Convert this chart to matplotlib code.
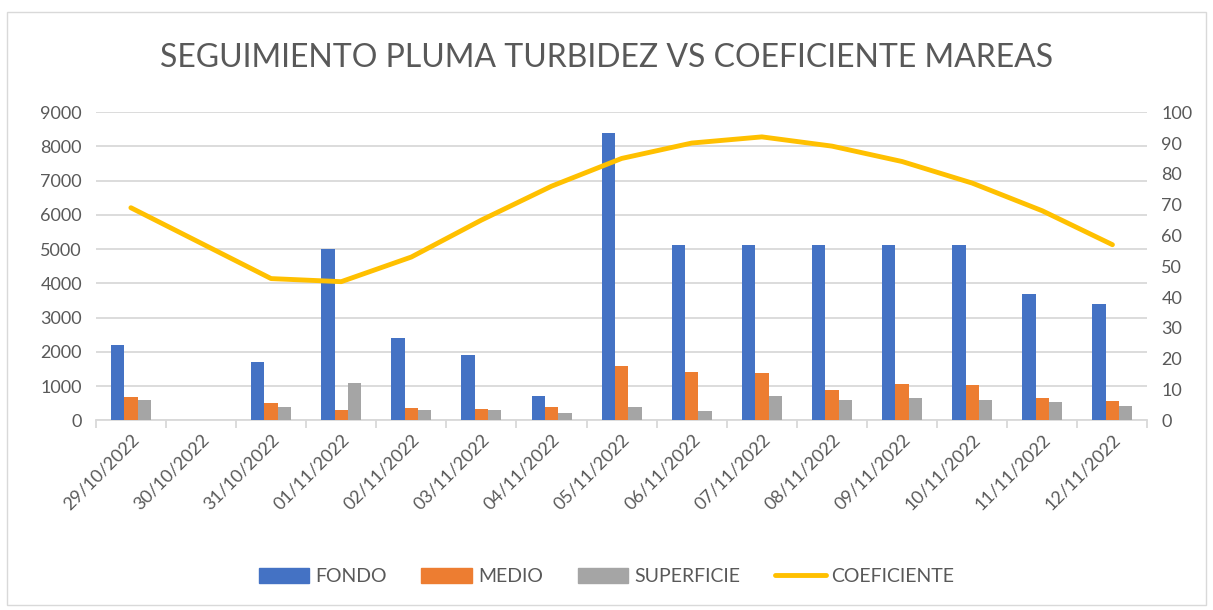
import matplotlib.pyplot as plt
import numpy as np
from matplotlib.patches import Patch
from matplotlib.lines import Line2D

plt.rcParams['font.family'] = ['Lato', 'DejaVu Sans']

fechas = ['29/10/2022', '30/10/2022', '31/10/2022', '01/11/2022', '02/11/2022',
          '03/11/2022', '04/11/2022', '05/11/2022', '06/11/2022', '07/11/2022',
          '08/11/2022', '09/11/2022', '10/11/2022', '11/11/2022', '12/11/2022']
fondo = [2200, np.nan, 1700, 5000, 2400, 1900, 700, 8400, 5120, 5120, 5120, 5120, 5120, 3700, 3400]
medio = [680, np.nan, 500, 300, 350, 320, 400, 1600, 1400, 1380, 880, 1060, 1040, 650, 560]
superficie = [600, np.nan, 400, 1100, 300, 300, 200, 400, 280, 720, 600, 660, 600, 530, 430]
coeficiente = [69, 57.5, 46, 45, 53, 65, 76, 85, 90, 92, 89, 84, 77, 68, 57]

c_fondo = '#4472C4'
c_medio = '#ED7D31'
c_sup = '#A5A5A5'
c_coef = '#FFC000'
gris = '#595959'

fig = plt.figure(figsize=(12.13, 6.1), dpi=100)
fig.patches.append(plt.Rectangle((0.006, 0.008), 0.988, 0.972, transform=fig.transFigure,
                                 fill=False, edgecolor='#d9d9d9', linewidth=1))
ax = fig.add_axes([0.079, 0.311, 0.867, 0.505])

x = np.arange(len(fechas))
w = 0.19
ax.bar(x - w, fondo, w, color=c_fondo, zorder=3)
ax.bar(x, medio, w, color=c_medio, zorder=3)
ax.bar(x + w, superficie, w, color=c_sup, zorder=3)

ax.set_xlim(-0.5, len(fechas) - 0.5)
ax.set_ylim(0, 9000)
ax.set_yticks(range(0, 9001, 1000))
ax.grid(axis='y', color='#d9d9d9', linewidth=1.3, zorder=0)
ax.set_axisbelow(True)
for s in ['top', 'right', 'left']:
    ax.spines[s].set_visible(False)
ax.spines['bottom'].set_color('#d9d9d9')
ax.spines['bottom'].set_linewidth(1.3)

ax.set_xticks(x)
ax.set_xticklabels(fechas, rotation=45, ha='right', rotation_mode='anchor')
ax.set_xticks(np.arange(-0.5, len(fechas), 1), minor=True)
ax.tick_params(axis='x', which='major', length=0, labelsize=13, labelcolor=gris, pad=8)
ax.tick_params(axis='x', which='minor', length=6, color='#d9d9d9', width=1.3)
ax.tick_params(axis='y', length=0, labelsize=13, labelcolor=gris, pad=10)

ax2 = ax.twinx()
ax2.plot(x, coeficiente, color=c_coef, linewidth=3.5, solid_capstyle='round', zorder=4)
ax2.set_ylim(0, 100)
ax2.set_yticks(range(0, 101, 10))
ax2.tick_params(axis='y', length=0, labelsize=13, labelcolor=gris, pad=10)
for s in ax2.spines.values():
    s.set_visible(False)

fig.text(0.5, 0.905, 'SEGUIMIENTO PLUMA TURBIDEZ VS COEFICIENTE MAREAS',
         ha='center', va='center', fontsize=23, color=gris)

handles = [Patch(color=c_fondo), Patch(color=c_medio), Patch(color=c_sup),
           Line2D([0], [0], color=c_coef, linewidth=3.5, solid_capstyle='round')]
labels = ['FONDO', 'MEDIO', 'SUPERFICIE', 'COEFICIENTE']
fig.legend(handles, labels, loc='center', bbox_to_anchor=(0.5, 0.055), ncol=4,
           frameon=False, fontsize=14, labelcolor=gris, handlelength=2.6,
           handleheight=0.8, handletextpad=0.3, columnspacing=1.8)

fig.savefig('out.png', dpi=100)
